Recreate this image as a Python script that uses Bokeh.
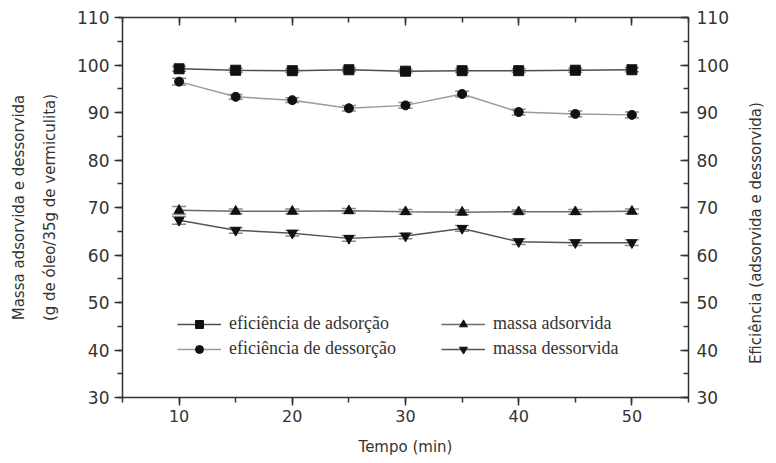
import math
from bokeh.plotting import figure
from bokeh.models import (LinearAxis, Range1d, SingleIntervalTicker, FixedTicker,
                          ColumnDataSource, Whisker, TeeHead, Legend, LegendItem,
                          CustomJSTickFormatter)
from bokeh.embed import file_html
from bokeh.resources import INLINE

# ---- data ----
tempo = [10, 15, 20, 25, 30, 35, 40, 45, 50]
efic_adsorcao = [99.2, 98.9, 98.8, 99.0, 98.7, 98.8, 98.8, 98.9, 99.0]
efic_adsorcao_err = [0.5, 0.4, 0.4, 0.4, 0.4, 0.4, 0.4, 0.4, 0.4]
efic_dessorcao = [96.5, 93.3, 92.6, 90.9, 91.5, 93.9, 90.1, 89.7, 89.5]
efic_dessorcao_err = [0.7, 0.5, 0.5, 0.6, 0.6, 0.6, 0.6, 0.6, 0.6]
massa_adsorvida = [69.4, 69.2, 69.2, 69.3, 69.1, 69.0, 69.1, 69.1, 69.2]
massa_adsorvida_err = [0.8, 0.5, 0.5, 0.5, 0.5, 0.5, 0.4, 0.5, 0.5]
massa_dessorvida = [67.3, 65.2, 64.6, 63.5, 64.0, 65.6, 62.8, 62.6, 62.6]
massa_dessorvida_err = [0.8, 0.6, 0.6, 0.6, 0.6, 0.6, 0.6, 0.6, 0.6]

labels = ["eficiência de adsorção", "eficiência de dessorção",
          "massa adsorvida", "massa dessorvida"]
right_title = "Eficiência (adsorvida e dessorvida)"

TXT = "#333333"
SANS = "DejaVu Sans"

p = figure(width=776, height=463, output_backend="svg", toolbar_location=None,
           x_range=Range1d(5, 55), y_range=Range1d(30, 110),
           min_border_left=122, min_border_right=86, min_border_top=17,
           min_border_bottom=66, outline_line_color=None)
p.grid.visible = False
p.background_fill_color = "white"
p.border_fill_color = "white"

xt = SingleIntervalTicker(interval=10, num_minor_ticks=2)
yt = SingleIntervalTicker(interval=10, num_minor_ticks=2)


def style_axis(ax, tin, tout, label_size="17px"):
    ax.axis_line_color = TXT
    ax.axis_line_width = 1.5
    ax.major_tick_line_color = TXT
    ax.minor_tick_line_color = TXT
    ax.major_tick_line_width = 1.5
    ax.minor_tick_line_width = 1.5
    ax.major_tick_in = tin
    ax.major_tick_out = tout
    ax.minor_tick_in = tin * 5 // 8
    ax.minor_tick_out = tout * 5 // 8
    ax.major_label_text_font = SANS
    ax.major_label_text_font_size = label_size
    ax.major_label_text_color = TXT
    ax.axis_label_text_font = SANS
    ax.axis_label_text_font_size = "15px"
    ax.axis_label_text_font_style = "normal"
    ax.axis_label_text_color = TXT


def label_only(ax):
    ax.axis_line_color = None
    ax.major_tick_line_color = None
    ax.minor_tick_line_color = None
    ax.major_tick_in = 0
    ax.major_tick_out = 0
    ax.minor_tick_in = 0
    ax.minor_tick_out = 0
    ax.major_label_standoff = 0


# bottom axis
xa = p.xaxis[0]
xa.ticker = xt
xa.axis_label = "Tempo (min)"
style_axis(xa, 0, 8, "16px")
xa.major_label_standoff = 4
xa.axis_label_standoff = 13

# left axis (inner label line)
ya = p.yaxis[0]
ya.ticker = yt
ya.axis_label = "(g de óleo/35g de vermiculita)"
style_axis(ya, 0, 8)
ya.major_label_standoff = 5
ya.axis_label_standoff = 15

# left outer label line (axis without ticks)
ya2 = LinearAxis(ticker=FixedTicker(ticks=[]), axis_label="Massa adsorvida e dessorvida")
style_axis(ya2, 0, 0)
label_only(ya2)
ya2.axis_label_standoff = 11
p.add_layout(ya2, "left")

# top axis (ticks inward, no labels)
xtop = LinearAxis(ticker=xt, formatter=CustomJSTickFormatter(code="return ''"))
style_axis(xtop, 8, 0)
xtop.major_label_standoff = 0
p.add_layout(xtop, "above")

# right axis (ticks inward, labels)
yr = LinearAxis(ticker=yt)
style_axis(yr, 8, 0)
yr.major_label_standoff = 8
p.add_layout(yr, "right")

# right title: label-only axis, text reading bottom-to-top
yr2 = LinearAxis(ticker=FixedTicker(ticks=[]),
                 axis_label="\u00a0" * 7 + right_title)
style_axis(yr2, 0, 0)
label_only(yr2)
yr2.axis_label_orientation = math.pi / 2
yr2.axis_label_standoff = 24
if "axis_label_align" in yr2.properties():
    yr2.axis_label_align = "start"
p.add_layout(yr2, "right")

series = [
    (efic_adsorcao, efic_adsorcao_err, "square", 10, "#4d4d4d"),
    (efic_dessorcao, efic_dessorcao_err, "circle", 9, "#9a9a9a"),
    (massa_adsorvida, massa_adsorvida_err, "triangle", 10, "#6a6a6a"),
    (massa_dessorvida, massa_dessorvida_err, "inverted_triangle", 10, "#555555"),
]

items = []
for (vals, errs, marker, size, lc), lab in zip(series, labels):
    src = ColumnDataSource(dict(
        x=tempo, y=vals,
        upper=[v + e for v, e in zip(vals, errs)],
        lower=[v - e for v, e in zip(vals, errs)]))
    w = Whisker(source=src, base="x", upper="upper", lower="lower",
                line_color="#8a8a8a", line_width=1.5,
                upper_head=TeeHead(size=14, line_color="#8a8a8a", line_width=1.5),
                lower_head=TeeHead(size=14, line_color="#8a8a8a", line_width=1.5))
    p.add_layout(w)
    lr = p.line("x", "y", source=src, line_color=lc, line_width=1.5)
    sr = p.scatter("x", "y", source=src, marker=marker, size=size,
                   fill_color="#111111", line_color="#111111")
    items.append(LegendItem(label=lab, renderers=[lr, sr]))

leg = Legend(items=items, ncols=2, location=(55, 38),
             glyph_width=44, glyph_height=20, label_height=20,
             label_standoff=8, label_width=208, spacing=4,
             padding=0, margin=0,
             border_line_color=None, background_fill_alpha=0,
             label_text_font="Liberation Serif", label_text_font_size="18px",
             label_text_color=TXT)
p.add_layout(leg, "center")

open("out.html", "w").write(file_html(p, INLINE))
